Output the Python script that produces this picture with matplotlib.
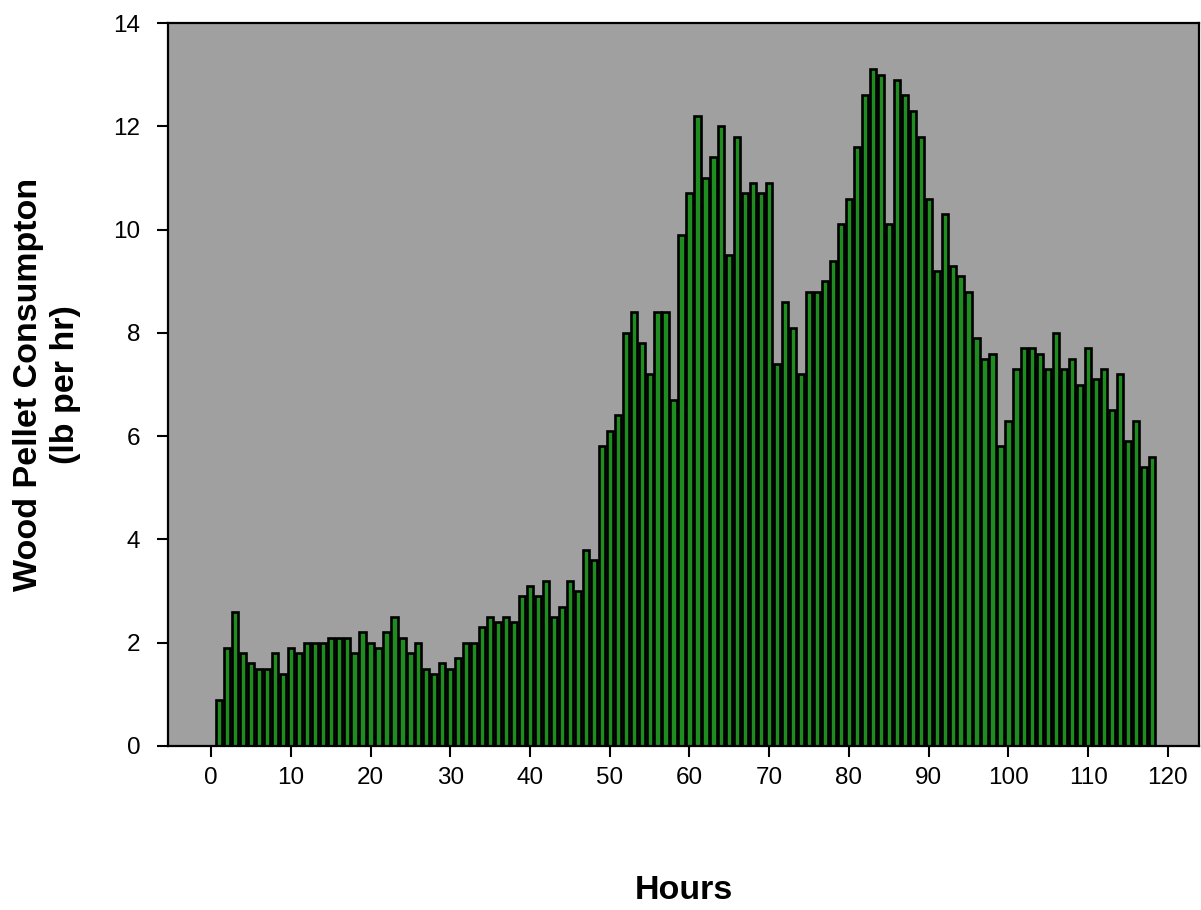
import numpy as np
import matplotlib
matplotlib.use("Agg")
import matplotlib.pyplot as plt

plt.rcParams['font.family'] = ['Liberation Sans', 'DejaVu Sans']

# hourly wood pellet consumption, hours 1..118 (lb per hr)
hours = list(range(1, 119))
consumption = [
    0.9, 1.9, 2.6, 1.8, 1.6, 1.5, 1.5, 1.8, 1.4, 1.9,
    1.8, 2.0, 2.0, 2.0, 2.1, 2.1, 2.1, 1.8, 2.2, 2.0,
    1.9, 2.2, 2.5, 2.1, 1.8, 2.0, 1.5, 1.4, 1.6, 1.5,
    1.7, 2.0, 2.0, 2.3, 2.5, 2.4, 2.5, 2.4, 2.9, 3.1,
    2.9, 3.2, 2.5, 2.7, 3.2, 3.0, 3.8, 3.6, 5.8, 6.1,
    6.4, 8.0, 8.4, 7.8, 7.2, 8.4, 8.4, 6.7, 9.9, 10.7,
    12.2, 11.0, 11.4, 12.0, 9.5, 11.8, 10.7, 10.9, 10.7, 10.9,
    7.4, 8.6, 8.1, 7.2, 8.8, 8.8, 9.0, 9.4, 10.1, 10.6,
    11.6, 12.6, 13.1, 13.0, 10.1, 12.9, 12.6, 12.3, 11.8, 10.6,
    9.2, 10.3, 9.3, 9.1, 8.8, 7.9, 7.5, 7.6, 5.8, 6.3,
    7.3, 7.7, 7.7, 7.6, 7.3, 8.0, 7.3, 7.5, 7.0, 7.7,
    7.1, 7.3, 6.5, 7.2, 5.9, 6.3, 5.4, 5.6,
]
x_ticks = list(range(0, 121, 10))
y_ticks = list(range(0, 15, 2))

fig = plt.figure(figsize=(12.01, 9.10), dpi=100)
ax = fig.add_axes([168 / 1201, 1 - 746 / 910, (1199 - 168) / 1201, (746 - 23) / 910])
ax.set_facecolor('#a0a0a0')

ax.bar(hours, consumption, width=0.78, color='#1f8c1f', edgecolor='black', linewidth=1.9)

ax.set_xlim(-5.4, 123.9)
ax.set_ylim(0, 14)
ax.set_xticks(x_ticks)
ax.set_yticks(y_ticks)
ax.tick_params(axis='both', direction='out', length=8, width=1.5, labelsize=17.5)
ax.tick_params(axis='y', pad=12)
ax.tick_params(axis='x', pad=7)

for s in ax.spines.values():
    s.set_linewidth(1.6)
    s.set_color('black')

ax.set_ylabel('Wood Pellet Consumpton\n(lb per hr)', fontsize=24.5, fontweight='bold',
              linespacing=1.25, va='center')
ax.yaxis.set_label_coords(-0.117, 0.5)
ax.set_xlabel('Hours', fontsize=24.5, fontweight='bold')
ax.xaxis.set_label_coords(0.5, -0.178)

fig.savefig('out.png', dpi=100)
